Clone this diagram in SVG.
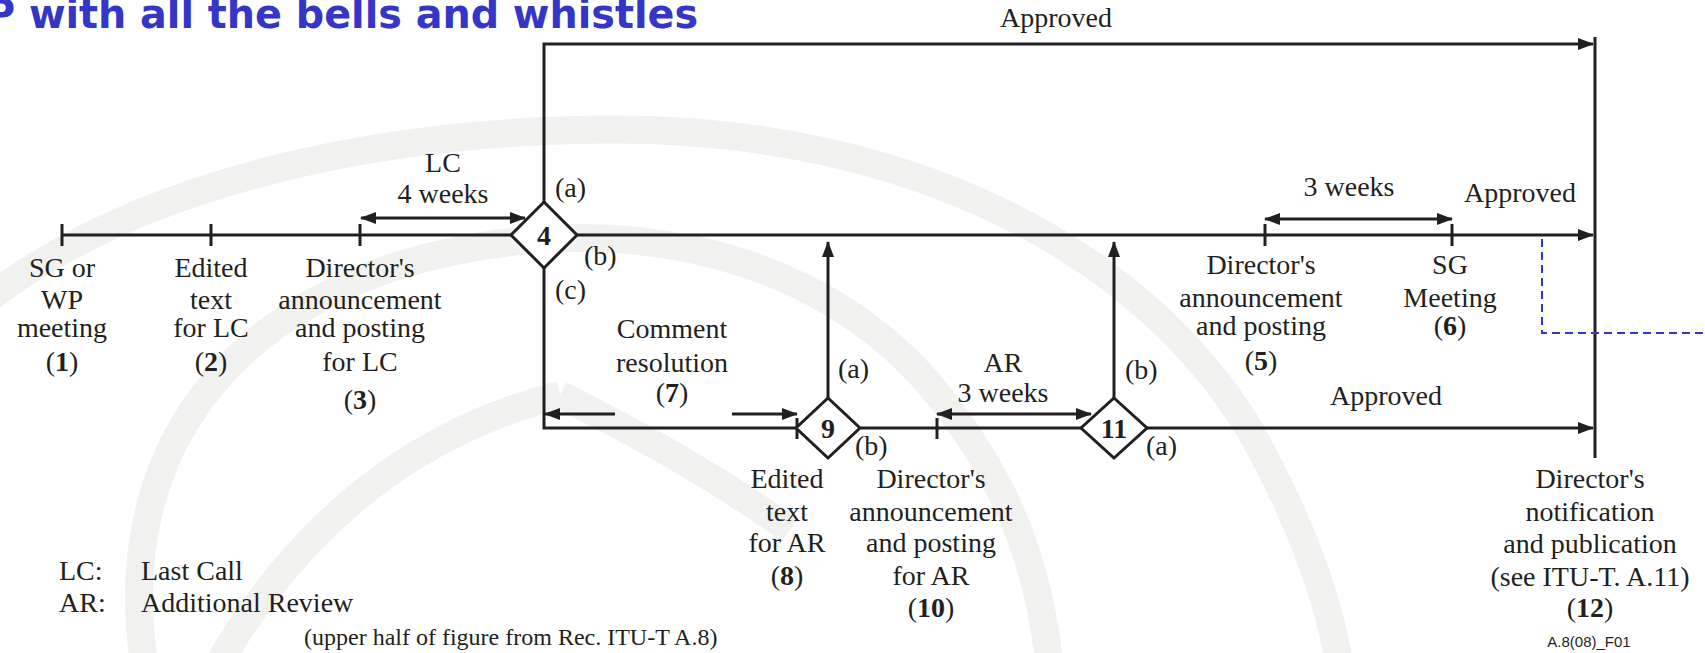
<svg xmlns="http://www.w3.org/2000/svg" width="1705" height="653" viewBox="0 0 1705 653">
<style>
.t{font-family:"Liberation Serif","Times New Roman",serif;font-size:28px;fill:#231f20}
.c{text-anchor:middle}
.b{font-weight:bold}
.ln{stroke:#231f20;stroke-width:3;fill:none}
.dm{stroke:#231f20;stroke-width:3;fill:#fff}
.wm{stroke:#f1f1ef;stroke-width:28;fill:none}
</style>
<defs>
<marker id="ah" markerUnits="userSpaceOnUse" markerWidth="16" markerHeight="12" refX="15" refY="6" orient="auto-start-reverse">
<path d="M0,0 L16,6 L0,12 Z" fill="#231f20"/>
</marker>
</defs>
<rect width="1705" height="653" fill="#fff"/>
<g id="watermark">
<path class="wm" d="M-20,305 C150,170 420,125 650,130 C920,140 1140,250 1250,430 C1300,520 1330,600 1340,670"/>
<path class="wm" d="M145,670 C115,480 200,330 400,265 C600,205 810,245 930,385 C1010,480 1040,570 1050,670"/>
<path class="wm" d="M215,670 C300,520 420,430 560,395"/>
<path class="wm" d="M560,395 C650,440 720,480 790,530"/>
</g>
<text x="-14" y="28" font-family="DejaVu Sans,Verdana,sans-serif" font-weight="bold" font-size="41" fill="#3535c8" textLength="712" lengthAdjust="spacingAndGlyphs">P with all the bells and whistles</text>
<g id="connectors">
<path class="ln" d="M544,202 V44 H1593" marker-end="url(#ah)"/>
<path class="ln" d="M62,235 H511"/>
<path class="ln" d="M577,235 H1593" marker-end="url(#ah)"/>
<path class="ln" d="M62,224 V246 M211,224 V246 M360,224 V246 M1265,224 V246 M1452,224 V246"/>
<path class="ln" d="M1595,37 V458"/>
<path class="ln" d="M544,268 V428 H797"/>
<path class="ln" d="M861,428 H1082"/>
<path class="ln" d="M1147,428 H1593" marker-end="url(#ah)"/>
<path class="ln" d="M797,418 V439 M937,418 V439"/>
<path class="ln" d="M828,398 V242" marker-end="url(#ah)"/>
<path class="ln" d="M1114,398 V242" marker-end="url(#ah)"/>
<path class="ln" d="M361,218 H525" marker-start="url(#ah)" marker-end="url(#ah)"/>
<path class="ln" d="M1265,219 H1452" marker-start="url(#ah)" marker-end="url(#ah)"/>
<path class="ln" d="M937,414 H1091" marker-start="url(#ah)" marker-end="url(#ah)"/>
<path class="ln" d="M615,414 H545" marker-end="url(#ah)"/>
<path class="ln" d="M732,414 H797" marker-end="url(#ah)"/>
<path d="M1542,239 V333 H1705" fill="none" stroke="#3535c8" stroke-width="2" stroke-dasharray="8,5"/>
</g>
<g id="n1"><text class="t c" x="62" y="277">SG or</text><text class="t c" x="62" y="309">WP</text><text class="t c" x="62" y="337">meeting</text><text class="t c" x="62" y="371">(<tspan class="b">1</tspan>)</text></g>
<g id="n2"><text class="t c" x="211" y="277">Edited</text><text class="t c" x="211" y="309">text</text><text class="t c" x="211" y="337">for LC</text><text class="t c" x="211" y="371">(<tspan class="b">2</tspan>)</text></g>
<g id="n3"><text class="t c" x="360" y="277">Director's</text><text class="t c" x="360" y="309">announcement</text><text class="t c" x="360" y="337">and posting</text><text class="t c" x="360" y="371">for LC</text><text class="t c" x="360" y="409">(<tspan class="b">3</tspan>)</text></g>
<g id="n4"><path class="dm" d="M544,202 L577,235 L544,268 L511,235 Z"/><text class="t c b" x="544" y="245">4</text></g>
<g id="n5"><text class="t c" x="1261" y="274">Director's</text><text class="t c" x="1261" y="307">announcement</text><text class="t c" x="1261" y="335">and posting</text><text class="t c" x="1261" y="370">(<tspan class="b">5</tspan>)</text></g>
<g id="n6"><text class="t c" x="1450" y="274">SG</text><text class="t c" x="1450" y="307">Meeting</text><text class="t c" x="1450" y="335">(<tspan class="b">6</tspan>)</text></g>
<g id="n7"><text class="t c" x="672" y="338">Comment</text><text class="t c" x="672" y="372">resolution</text><text class="t c" x="672" y="402">(<tspan class="b">7</tspan>)</text></g>
<g id="n8"><text class="t c" x="787" y="488">Edited</text><text class="t c" x="787" y="521">text</text><text class="t c" x="787" y="552">for AR</text><text class="t c" x="787" y="585">(<tspan class="b">8</tspan>)</text></g>
<g id="n9"><path class="dm" d="M828,398 L860,428 L828,458 L796,428 Z"/><text class="t c b" x="828" y="438">9</text></g>
<g id="n10"><text class="t c" x="931" y="488">Director's</text><text class="t c" x="931" y="521">announcement</text><text class="t c" x="931" y="552">and posting</text><text class="t c" x="931" y="585">for AR</text><text class="t c" x="931" y="617">(<tspan class="b">10</tspan>)</text></g>
<g id="n11"><path class="dm" d="M1114,398 L1147,428 L1114,458 L1081,428 Z"/><text class="t c b" x="1114" y="438">11</text></g>
<g id="n12"><text class="t c" x="1590" y="488">Director's</text><text class="t c" x="1590" y="521">notification</text><text class="t c" x="1590" y="553">and publication</text><text class="t c" x="1590" y="586">(see ITU-T. A.11)</text><text class="t c" x="1590" y="617">(<tspan class="b">12</tspan>)</text></g>
<g id="labels">
<text class="t c" x="1056" y="27">Approved</text>
<text class="t c" x="443" y="172">LC</text>
<text class="t c" x="443" y="203">4 weeks</text>
<text class="t" x="555" y="197">(a)</text>
<text class="t" x="584" y="265">(b)</text>
<text class="t" x="555" y="299">(c)</text>
<text class="t c" x="1349" y="196">3 weeks</text>
<text class="t c" x="1520" y="202">Approved</text>
<text class="t" x="838" y="378">(a)</text>
<text class="t c" x="1003" y="372">AR</text>
<text class="t c" x="1003" y="402">3 weeks</text>
<text class="t" x="1125" y="379">(b)</text>
<text class="t c" x="1386" y="405">Approved</text>
<text class="t" x="855" y="455">(b)</text>
<text class="t" x="1146" y="455">(a)</text>
<text class="t" x="59" y="580">LC:</text>
<text class="t" x="141" y="580">Last Call</text>
<text class="t" x="59" y="612">AR:</text>
<text class="t" x="141" y="612">Additional Review</text>
<text class="t" x="304" y="645" style="font-size:24px">(upper half of figure from Rec. ITU-T A.8)</text>
<text x="1589" y="647" font-family="Liberation Sans,Arial,sans-serif" font-size="15" fill="#231f20" text-anchor="middle">A.8(08)_F01</text>
</g>
</svg>
